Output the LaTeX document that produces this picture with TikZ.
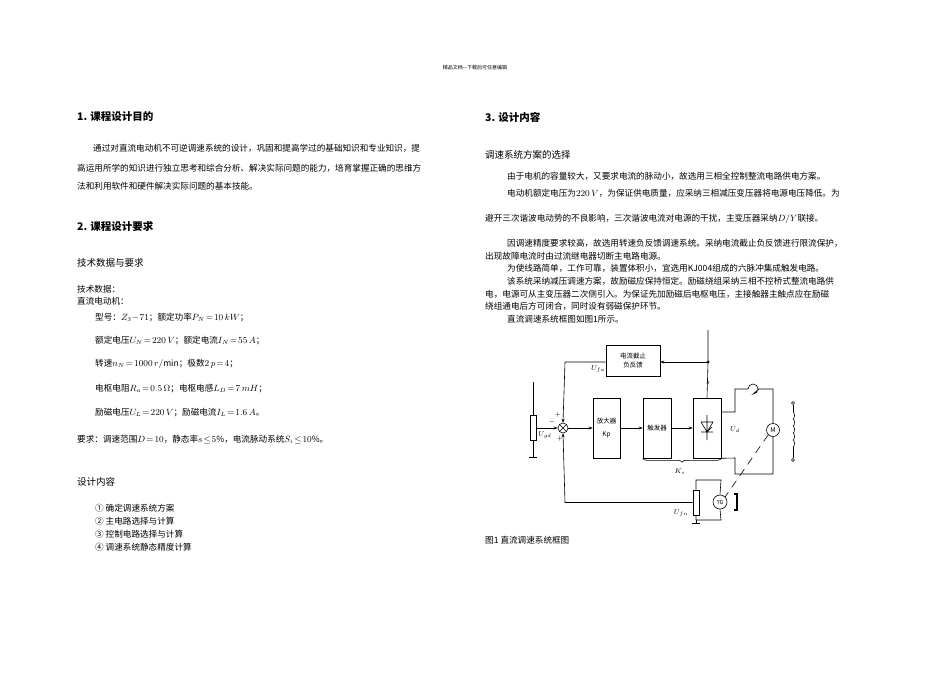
\documentclass[tikz,border=0pt]{standalone}
\usepackage{fontspec}
\setmainfont{Noto Sans CJK SC}
\usetikzlibrary{arrows.meta,decorations.pathreplacing}
\begin{document}
\begin{tikzpicture}[x=1pt,y=-1pt,
 txt/.style={anchor=west,inner sep=0pt,font=\fontsize{8.6}{9}\selectfont},
 hd/.style={anchor=west,inner sep=0pt,font=\fontsize{10.5}{11}\selectfont\bfseries},
 sub/.style={anchor=west,inner sep=0pt,font=\fontsize{9.5}{10}\selectfont},
 blk/.style={draw,line width=0.6pt,minimum width=#1},
 w/.style={line width=0.6pt},
 arr/.style={w,-{Stealth[length=4pt]}},
 lab/.style={inner sep=0pt,font=\fontsize{7.5}{8}\selectfont}]
\useasboundingbox (0,0) rectangle (950,672);
\node[inner sep=0pt,font=\fontsize{5}{5}\selectfont] (hdr) at (475,68) {精品文档---下载后可任意编辑};
% left column
\node[hd] (h1) at (77,117) {1. 课程设计目的};
\node[txt] (p1) at (93,148) {通过对直流电动机不可逆调速系统的设计，巩固和提高学过的基础知识和专业知识，提};
\node[txt] (p2) at (77,168) {高运用所学的知识进行独立思考和综合分析、解决实际问题的能力，培育掌握正确的思维方};
\node[txt] (p3) at (77,186) {法和利用软件和硬件解决实际问题的基本技能。};
\node[hd] (h2) at (77,226) {2. 课程设计要求};
\node[sub] (s1) at (77,263) {技术数据与要求};
\node[txt] (d1) at (77,289) {技术数据：};
\node[txt] (d2) at (77,301) {直流电动机：};
\node[txt] (d3) at (95,318) {型号：$Z_3\!-\!71$；额定功率$P_N\!=\!10\,kW$；};
\node[txt] (d4) at (95,341) {额定电压$U_N\!=\!220\,V$；额定电流$I_N\!=\!55\,A$；};
\node[txt] (d5) at (95,364) {转速$n_N\!=\!1000\,r/\mathrm{min}$；极数$2\,p\!=\!4$；};
\node[txt] (d6) at (95,389) {电枢电阻$R_a\!=\!0.5\,\Omega$；电枢电感$L_D\!=\!7\,mH$；};
\node[txt] (d7) at (95,413) {励磁电压$U_L\!=\!220\,V$；励磁电流$I_L\!=\!1.6\,A$。};
\node[txt] (d8) at (77,440) {要求：调速范围$D\!=\!10$，静态率$s\!\le\!5\%$，电流脉动系统$S_i\!\le\!10\%$。};
\node[sub] (s2) at (77,482) {设计内容};
\node[txt] (l1) at (95,508) {① 确定调速系统方案};
\node[txt] (l2) at (95,521) {② 主电路选择与计算};
\node[txt] (l3) at (95,534) {③ 控制电路选择与计算};
\node[txt] (l4) at (95,547) {④ 调速系统静态精度计算};
% right column
\node[hd] (h3) at (485,117) {3. 设计内容};
\node[sub] (s3) at (485,155) {调速系统方案的选择};
\node[txt] (r1) at (507,176) {由于电机的容量较大，又要求电流的脉动小，故选用三相全控制整流电路供电方案。};
\node[txt] (r2) at (507,193) {电动机额定电压为$220\,V$，为保证供电质量，应采纳三相减压变压器将电源电压降低。为};
\node[txt] (r3) at (485,219) {避开三次谐波电动势的不良影响，三次谐波电流对电源的干扰，主变压器采纳$D/Y$联接。};
\node[txt] (r4) at (507,243) {因调速精度要求较高，故选用转速负反馈调速系统。采纳电流截止负反馈进行限流保护，};
\node[txt] (r5) at (485,256) {出现故障电流时由过流继电器切断主电路电源。};
\node[txt] (r6) at (507,268) {为使线路简单，工作可靠，装置体积小，宜选用KJ004组成的六脉冲集成触发电路。};
\node[txt] (r7) at (507,281) {该系统采纳减压调速方案，故励磁应保持恒定。励磁绕组采纳三相不控桥式整流电路供};
\node[txt] (r8) at (485,294) {电，电源可从主变压器二次侧引入。为保证先加励磁后电枢电压，主接触器主触点应在励磁};
\node[txt] (r9) at (485,306) {绕组通电后方可闭合，同时设有弱磁保护环节。};
\node[txt] (r10) at (507,319) {直流调速系统框图如图1所示。};
\node[txt] (cap) at (485,540) {图1 直流调速系统框图};
% diagram
\coordinate (top) at (708,330);
\coordinate (jn) at (708,362);
\node[blk=54pt,minimum height=31pt,inner sep=0pt,align=center,font=\fontsize{6.5}{9}\selectfont] (cl) at (633,360.5) {电流截止\\负反馈};
\node[blk=27pt,minimum height=60pt,inner sep=0pt,align=center,font=\fontsize{6.5}{13}\selectfont] (amp) at (606.5,428) {放大器\\Kp};
\node[blk=28pt,minimum height=60pt,inner sep=0pt,font=\fontsize{6.5}{8}\selectfont] (trg) at (657,428) {触发器};
\node[blk=28pt,minimum height=60pt,inner sep=0pt] (rect) at (707,428) {};
\node[draw,circle,w,minimum size=10pt,inner sep=0pt] (sum) at (563,428) {};
\draw[w] (sum.north west)--(sum.south east) (sum.north east)--(sum.south west);
\fill (jn) circle (1.5pt);
\draw[w] (top)--(jn)--(rect.north);
\draw[arr] (jn)--(cl.east|-jn);
\draw[arr] (cl.west|-jn)--(565,362)--(sum.north);
\node[lab] (ufa) at (598,369) {$U_{fa}$};
\node[lab] (sl) at (708,383) {$s$};
% potentiometer
\node[draw,w,minimum width=6pt,minimum height=25pt,inner sep=0pt] (pot) at (533,428) {};
\draw[w] (533,382)--(pot.north) (pot.south)--(533,457) (529,457)--(537,457);
\draw[arr] (pot.east)--(sum.west);
\node[lab] (ugd) at (545,435) {$U_{gd}$};
\node[lab] (mn) at (552,422) {$-$};
\node[lab] (p1l) at (558,415) {$+$};
\node[lab] (p2l) at (560,439) {$+$};
\draw[arr] (sum.east)--(amp.west);
\draw[arr] (amp.east)--(trg.west);
\draw[arr] (trg.east)--(rect.west);
% thyristor
\draw[w] (701,422)--(713,422) (707,415)--(707,440) (701,422)--(707,432)--(713,422) (701,432)--(713,432) (707,432)--(712,427);
\draw[w,decorate,decoration={brace,amplitude=4pt,mirror}] (trg.south west)--(rect.south east);
\node[lab] (ks) at (680,472) {$K_s$};
% motor circuit
\node[draw,circle,w,minimum size=13pt,inner sep=0pt,font=\fontsize{6.5}{6}\selectfont] (mot) at (773,430) {M};
\draw[w] (rect.east|-0,412)--(735,412)--(735,389)--(748,389) arc (180:-90:5pt) -- (759,389)--(773,389)--(mot.north);
\draw[w] (rect.south east)--(735,458)--(735,474)--(773,474)--(mot.south);
\node[lab] (ud) at (735,430) {$U_d$};
\draw[w] (793,405)--(793,412);
\foreach \k in {0,...,4}{\draw[w] (793,412+7*\k) arc (90:-90:1.5pt and 3.5pt);}
\draw[w] (793,447)--(793,458);
\draw[w,fill=white] (793,403) circle (1.5pt) (793,460) circle (1.5pt);
\node[draw,circle,w,minimum size=14pt,inner sep=0pt,font=\fontsize{5.5}{5}\selectfont] (tg) at (720,502) {TG};
\draw[w,dashed,dash pattern=on 8pt off 6pt] (mot.south west)--(tg.north east);
\draw[line width=1.6pt] (734,494)--(737,494)--(737,510)--(734,510);
\node[draw,w,minimum width=6pt,minimum height=25pt,inner sep=0pt] (pot2) at (696,502.5) {};
\draw[w] (pot2.north)--(696,480)--(721,480)--(tg.north) (tg.south)--(721,520)--(696,520)--(pot2.south);
\draw[w] (696,520)--(696,523) (692,523)--(700,523);
\draw[arr] (pot2.west)--(565,502.5)--(sum.south);
\node[lab] (ufn) at (681,513) {$U_{fn}$};
\end{tikzpicture}
\end{document}
